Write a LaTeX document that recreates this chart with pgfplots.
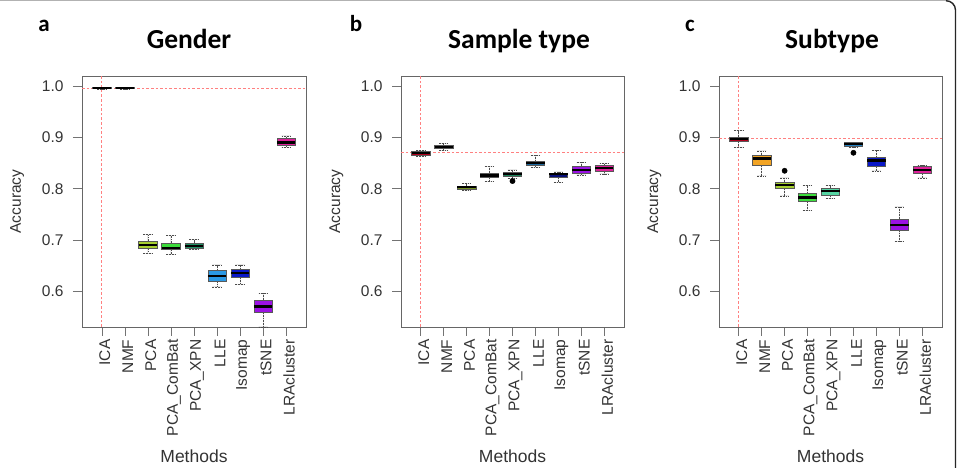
\documentclass[border=0pt]{standalone}
\usepackage{fontspec}
\setmainfont{Liberation Sans}
\newfontfamily\calib{Carlito}
\usepackage{pgfplots}
\pgfplotsset{compat=1.18}
\usepgfplotslibrary{statistics}
\definecolor{cICA}{HTML}{B0001C}
\definecolor{cNMF}{HTML}{F2A424}
\definecolor{cPCA}{HTML}{A6CF30}
\definecolor{cCB}{HTML}{3CDC3C}
\definecolor{cXPN}{HTML}{2CCB8C}
\definecolor{cLLE}{HTML}{2A98E4}
\definecolor{cISO}{HTML}{0A18C8}
\definecolor{cTS}{HTML}{9B12E4}
\definecolor{cLRA}{HTML}{DE209A}
\definecolor{refred}{HTML}{FF8080}
\definecolor{tickgray}{HTML}{333333}
\newcommand{\bx}[7]{\addplot[boxplot prepared={draw direction=y, draw position=#1, lower whisker=#2, lower quartile=#3, median=#4, upper quartile=#5, upper whisker=#6}, fill=#7, draw=black!65, line width=0.5pt] coordinates {};}
\newcommand{\bxo}[8]{\addplot[boxplot prepared={draw direction=y, draw position=#1, lower whisker=#2, lower quartile=#3, median=#4, upper quartile=#5, upper whisker=#6}, fill=#7, draw=black!65, line width=0.5pt, mark=*, mark size=2.6pt, mark options={fill=black, draw=black, solid}] coordinates {(0,#8)};}
\newcommand{\refl}[1]{%
\addplot[refred, line width=1pt, dash pattern=on 2.6pt off 2pt] coordinates {(0.14,#1) (9.86,#1)};
\addplot[refred, line width=1pt, dash pattern=on 2.6pt off 2pt] coordinates {(1,0.531) (1,1.0195)};}
\pgfplotsset{
  panel/.style={
    scale only axis, width=223pt, height=251pt,
    xmin=0.14, xmax=9.86, ymin=0.531, ymax=1.0195,
    xtick={1,...,9},
    xticklabels={ICA,NMF,PCA,PCA\_ComBat,PCA\_XPN,LLE,Isomap,tSNE,LRAcluster},
    ytick={0.6,0.7,0.8,0.9,1.0},
    tick pos=left, tick align=outside, major tick length=9pt,
    tick style={black!55, line width=0.6pt},
    axis line style={black!60, line width=0.8pt},
    ticklabel style={font=\fontsize{15.5}{18}\selectfont, text=tickgray},
    xticklabel style={rotate=90, anchor=east, yshift=-3pt},
    yticklabel style={xshift=-6pt, /pgf/number format/.cd, fixed, fixed zerofill, precision=1, assume math mode=true},
    xlabel={Methods}, ylabel={Accuracy},
    xlabel style={font=\fontsize{17.5}{20}\selectfont, text=tickgray, at={(axis description cs:0.5,-0.515)}, anchor=center},
    ylabel style={font=\fontsize{15.5}{18}\selectfont, text=tickgray, at={(axis description cs:-0.29,0.5)}, anchor=center},
    boxplot/draw direction=y,
    boxplot/box extend=0.8,
    boxplot/whisker extend=0.4,
    boxplot/every median/.style={black, line width=2.2pt},
    boxplot/every whisker/.style={black!70, line width=0.5pt, dash pattern=on 1.8pt off 1pt},
    clip=false,
  }
}
\begin{document}
\begin{tikzpicture}
\useasboundingbox (0pt,0pt) rectangle (959pt,468pt);
\fill[white] (0pt,0pt) rectangle (959pt,468pt);
% frame of the figure
\draw[black!30, line width=1.2pt] (0pt,467.3pt) -- (946pt,467.3pt);
\draw[black!85, line width=1.4pt] (946pt,467.3pt) arc[start angle=90, end angle=0, radius=9.5pt] -- (955.5pt,0pt);
% panel letters and titles
\node[anchor=base, font=\calib\bfseries\fontsize{23}{26}\selectfont] at (44pt,436pt) {a};
\node[anchor=base, font=\calib\bfseries\fontsize{23}{26}\selectfont] at (356pt,436pt) {b};
\node[anchor=base, font=\calib\bfseries\fontsize{23}{26}\selectfont] at (690pt,436pt) {c};
\node[anchor=base, font=\calib\bfseries\fontsize{27.5}{30}\selectfont] at (189pt,419pt) {Gender};
\node[anchor=base, font=\calib\bfseries\fontsize{27.5}{30}\selectfont] at (519pt,419pt) {Sample type};
\node[anchor=base, font=\calib\bfseries\fontsize{27.5}{30}\selectfont] at (832pt,419pt) {Subtype};

% Panel a: Gender
\begin{axis}[panel, at={(82pt,141pt)}, anchor=south west, width=224pt]
\refl{0.996}
\bx{1}{0.994}{0.995}{0.996}{0.997}{0.998}{cICA}
\bx{2}{0.994}{0.995}{0.996}{0.997}{0.998}{cNMF}
\bx{3}{0.675}{0.685}{0.691}{0.698}{0.711}{cPCA}
\bx{4}{0.672}{0.682}{0.685}{0.694}{0.709}{cCB}
\bx{5}{0.682}{0.685}{0.689}{0.694}{0.701}{cXPN!70!black}
\bx{6}{0.609}{0.621}{0.630}{0.641}{0.652}{cLLE}
\bx{7}{0.614}{0.628}{0.636}{0.643}{0.652}{cISO}
\bx{8}{0.531}{0.560}{0.571}{0.584}{0.597}{cTS}
\bx{9}{0.881}{0.884}{0.890}{0.898}{0.903}{cLRA}
\end{axis}

% Panel b: Sample type
\begin{axis}[panel, at={(401pt,141pt)}, anchor=south west]
\refl{0.870}
\bx{1}{0.864}{0.866}{0.870}{0.873}{0.875}{cICA}
\bx{2}{0.875}{0.878}{0.882}{0.885}{0.888}{cNMF}
\bx{3}{0.797}{0.800}{0.803}{0.805}{0.810}{cPCA!70!black}
\bx{4}{0.814}{0.822}{0.826}{0.831}{0.844}{cCB}
\bxo{5}{0.820}{0.824}{0.829}{0.833}{0.837}{cXPN!65!black}{0.815}
\bx{6}{0.842}{0.845}{0.850}{0.853}{0.865}{cLLE!70!black}
\bx{7}{0.813}{0.823}{0.828}{0.831}{0.833}{cISO!60!black}
\bx{8}{0.827}{0.831}{0.837}{0.844}{0.852}{cTS}
\bx{9}{0.829}{0.835}{0.840}{0.846}{0.849}{cLRA}
\end{axis}

% Panel c: Subtype
\begin{axis}[panel, at={(719pt,141pt)}, anchor=south west]
\refl{0.897}
\bx{1}{0.880}{0.892}{0.897}{0.901}{0.913}{cICA}
\bx{2}{0.825}{0.845}{0.859}{0.866}{0.874}{cNMF}
\bxo{3}{0.786}{0.801}{0.807}{0.813}{0.821}{cPCA}{0.835}
\bx{4}{0.758}{0.775}{0.783}{0.791}{0.806}{cCB}
\bx{5}{0.782}{0.787}{0.796}{0.801}{0.806}{cXPN!80!white}
\bxo{6}{0.881}{0.882}{0.887}{0.890}{0.891}{cLLE!85!black}{0.870}
\bx{7}{0.835}{0.844}{0.855}{0.861}{0.875}{cISO}
\bx{8}{0.698}{0.720}{0.730}{0.741}{0.765}{cTS}
\bx{9}{0.821}{0.830}{0.837}{0.844}{0.846}{cLRA}
\end{axis}
\end{tikzpicture}
\end{document}
